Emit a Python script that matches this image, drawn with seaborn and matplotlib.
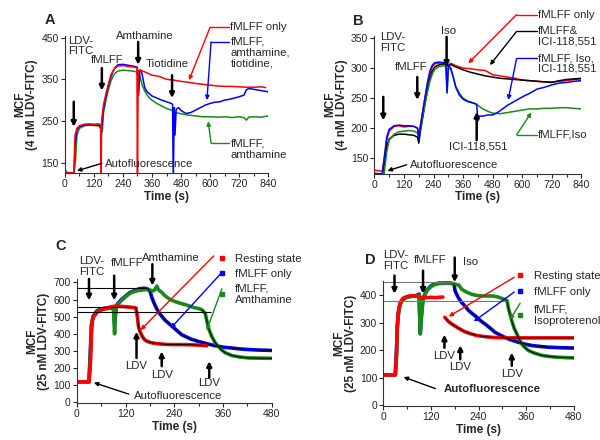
import numpy as np
import pandas as pd
import matplotlib
matplotlib.use('Agg')
import matplotlib.pyplot as plt
import seaborn as sns
from matplotlib.lines import Line2D
from matplotlib.ticker import MultipleLocator

sns.set_style('ticks')
plt.rcParams['font.family'] = ['Liberation Sans', 'DejaVu Sans']

# ---------------- Panel A data (4 nM LDV-FITC, amthamine / tiotidine) ----------------
a_red_t = [0, 10, 38, 40, 42, 50, 60, 80, 100, 120, 140, 148, 150, 152, 160, 170, 180, 190, 200, 210, 220,
           240, 260, 280, 296, 298, 300, 303, 310, 330, 360, 390, 420, 450, 480, 510, 540, 570, 600, 630,
           660, 690, 720, 750, 780, 810, 830]
a_red_v = [128, 126, 125, 180, 215, 232, 238, 242, 243, 242, 243, 240, 100, 250, 290, 315, 338, 360, 372, 378,
           382, 383, 381, 380, 378, 376, 100, 370, 372, 368, 360, 357, 350, 348, 345, 343, 340, 338, 336, 334,
           333, 333, 332, 331, 331, 332, 330]
a_blue_t = [0, 10, 38, 42, 50, 60, 80, 100, 120, 140, 148, 150, 153, 160, 170, 180, 190, 200, 210, 220, 240,
            260, 280, 296, 300, 305, 310, 315, 320, 330, 340, 350, 360, 380, 400, 420, 440, 445, 448, 452,
            455, 460, 470, 480, 500, 520, 540, 560, 580, 600, 620, 640, 660, 680, 700, 720, 740, 750, 760,
            780, 800, 820, 840]
a_blue_v = [128, 125, 124, 190, 228, 236, 240, 241, 240, 240, 238, 205, 240, 280, 310, 335, 355, 370, 380, 385,
            386, 384, 382, 380, 378, 312, 372, 372, 360, 330, 320, 315, 310, 305, 300, 296, 292, 290, 100,
            282, 216, 278, 282, 275, 268, 270, 276, 282, 288, 292, 295, 296, 300, 302, 305, 308, 312, 325,
            328, 326, 324, 322, 320]
a_green_t = [0, 5, 10, 38, 45, 50, 60, 80, 100, 120, 140, 150, 155, 160, 170, 180, 190, 200, 210, 220, 240,
             260, 280, 296, 300, 305, 310, 320, 330, 340, 350, 360, 380, 400, 420, 440, 460, 480, 510, 540,
             570, 600, 630, 660, 690, 720, 740, 750, 760, 780, 810, 840]
a_green_v = [140, 128, 124, 123, 160, 215, 232, 238, 240, 239, 238, 230, 225, 270, 300, 325, 345, 358, 366, 370,
             372, 371, 370, 368, 360, 365, 358, 335, 322, 312, 305, 300, 292, 286, 280, 276, 270, 267, 264,
             262, 260, 260, 259, 260, 258, 260, 258, 252, 259, 260, 259, 262]

# ---------------- Panel B data (Iso / ICI-118,551) ----------------
b_t = [0, 20, 32, 40, 50, 60, 80, 100, 120, 140, 160, 175, 180, 185, 195, 205, 215, 225, 235, 245, 260, 280,
       295, 300, 310, 330, 360, 390, 420, 450, 480, 510, 540, 570, 600, 630, 660, 690, 720, 750, 780, 810, 840]
b_red_v = [130, 129, 128, 150, 180, 195, 203, 204, 202, 203, 203, 200, 185, 200, 225, 250, 272, 290, 302, 307,
           308, 309, 308, 305, 308, 304, 300, 299, 297, 296, 289, 287, 285, 283, 280, 279, 278, 277, 277, 278,
           279, 281, 282]
b_black_v = [124, 123, 123, 140, 170, 182, 188, 190, 190, 189, 188, 185, 175, 190, 215, 240, 262, 282, 295,
             302, 305, 307, 306, 303, 306, 302, 297, 293, 290, 287, 285, 283, 282, 281, 280, 279, 278, 277,
             276, 279, 281, 282, 283]
b_green_t = [0, 20, 32, 40, 50, 60, 80, 100, 120, 140, 160, 175, 180, 185, 195, 205, 215, 225, 235, 245, 260,
             280, 290, 295, 300, 310, 320, 330, 345, 360, 380, 400, 420, 440, 460, 480, 510, 540, 570, 600,
             630, 660, 690, 720, 750, 780, 810, 840]
b_green_v = [122, 121, 120, 125, 160, 180, 190, 194, 195, 196, 195, 192, 185, 195, 218, 240, 260, 278, 290,
             298, 302, 304, 303, 258, 300, 298, 285, 270, 258, 250, 245, 242, 238, 232, 228, 225, 224, 226,
             228, 230, 232, 232, 233, 233, 234, 234, 233, 232]
b_blue_t = [0, 20, 32, 40, 50, 60, 80, 100, 120, 140, 160, 175, 180, 185, 195, 205, 215, 225, 235, 245, 260,
            280, 290, 295, 300, 310, 320, 330, 345, 360, 380, 400, 415, 420, 425, 440, 460, 480, 500, 520,
            540, 570, 600, 630, 660, 690, 720, 750, 780, 810, 840]
b_blue_v = [125, 124, 124, 150, 185, 198, 204, 205, 204, 204, 203, 200, 182, 198, 225, 250, 275, 295, 305,
            309, 310, 309, 308, 260, 305, 300, 285, 268, 255, 248, 244, 242, 240, 212, 220, 220, 222, 222,
            226, 232, 238, 245, 252, 258, 265, 268, 272, 275, 276, 278, 279]

# ---------------- Panel C data (25 nM LDV-FITC, amthamine) ----------------
c_red_t = [0, 10, 20, 30, 34, 36, 38, 40, 45, 50, 60, 70, 80, 90, 100, 110, 120, 130, 140, 145, 148, 152,
           156, 160, 165, 170, 180, 190, 200, 220, 240, 260, 280, 300, 320]
c_red_v = [120, 120, 120, 120, 250, 400, 470, 495, 510, 525, 540, 548, 555, 560, 562, 560, 558, 556, 553,
           550, 520, 440, 410, 390, 370, 360, 350, 345, 342, 338, 337, 337, 336, 334, 330]
c_blue_t = [0, 10, 20, 30, 34, 36, 40, 45, 50, 60, 70, 80, 90, 93, 95, 98, 100, 110, 120, 130, 140, 150, 160,
            170, 175, 180, 185, 190, 197, 205, 217, 234, 258, 280, 300, 320, 340, 360, 382, 400, 423, 450, 480]
c_blue_v = [120, 120, 120, 120, 340, 450, 500, 520, 535, 545, 550, 552, 555, 470, 520, 560, 575, 600, 620,
            640, 650, 660, 665, 665, 660, 650, 610, 580, 545, 515, 480, 445, 395, 370, 355, 342, 331, 322,
            317, 312, 308, 305, 303]
c_green_t = [0, 10, 20, 30, 34, 36, 40, 45, 50, 60, 70, 80, 90, 93, 95, 98, 100, 110, 120, 130, 140, 150,
             160, 170, 180, 188, 193, 197, 201, 210, 217, 230, 242, 255, 267, 280, 290, 300, 308, 316, 324,
             332, 340, 349, 357, 365, 375, 382, 400, 423, 450, 480]
c_green_v = [120, 120, 120, 120, 300, 450, 500, 515, 530, 540, 545, 548, 550, 400, 500, 560, 570, 595, 615,
             635, 645, 652, 655, 658, 655, 650, 660, 678, 657, 640, 622, 600, 588, 578, 570, 560, 552, 548,
             540, 520, 434, 385, 350, 325, 305, 290, 280, 273, 265, 259, 258, 257]
c_ref_levels = [665, 555, 530]
c_ref_ends = [175, 148, 330]

# ---------------- Panel D data (25 nM LDV-FITC, isoproterenol) ----------------
d_red_t = [0, 10, 20, 30, 33, 35, 37, 40, 45, 50, 60, 70, 80, 85, 100, 110, 120, 130, 140, 150,
           155, 164, 172, 181, 190, 198, 210, 223, 235, 248, 260, 274, 290, 316, 350, 400, 440, 480]
d_red_v = [110, 110, 110, 110, 180, 280, 330, 360, 380, 390, 396, 398, 398, 398, 390, 392, 393, 392, 393, 394,
           320, 305, 296, 288, 280, 273, 265, 259, 254, 251, 249, 247, 246, 245, 245, 245, 245, 245]
d_red_seg = [0] * 20 + [1] * 18
d_blue_t = [0, 10, 20, 30, 33, 35, 38, 42, 48, 55, 65, 75, 85, 90, 93, 96, 100, 105, 110, 120, 130, 140, 150,
            160, 170, 178, 181, 189, 197, 206, 215, 223, 232, 245, 257, 270, 282, 299, 316, 330, 341, 358,
            375, 400, 417, 450, 480]
d_blue_v = [110, 110, 110, 110, 200, 290, 340, 370, 385, 392, 396, 398, 400, 405, 260, 330, 390, 405, 420,
            435, 442, 445, 445, 446, 445, 442, 416, 392, 375, 361, 345, 335, 325, 308, 295, 280, 265, 252,
            241, 234, 229, 222, 217, 213, 211, 209, 208]
d_green_t = [0, 10, 20, 30, 33, 35, 38, 42, 48, 55, 65, 75, 85, 90, 93, 96, 100, 105, 110, 120, 130, 140, 150,
             160, 170, 178, 183, 190, 198, 210, 223, 235, 248, 260, 274, 287, 299, 308, 312, 316, 320, 324,
             330, 337, 343, 349, 357, 366, 380, 400, 420, 434, 460, 480]
d_green_v = [110, 110, 110, 110, 180, 280, 330, 365, 382, 390, 395, 397, 400, 400, 260, 320, 385, 402, 418,
             432, 440, 443, 444, 445, 444, 442, 440, 438, 422, 412, 404, 400, 398, 398, 398, 395, 389, 384,
             380, 350, 330, 307, 280, 259, 240, 223, 210, 199, 190, 181, 177, 175, 173, 172]
d_ref_levels = [450, 380]
d_ref_ends = [178, 312]

RED, BLUE, GREEN, BLACK = '#ff0000', '#0000ff', '#178a17', '#000000'


def long_df(series):
    parts = []
    for name, t, v, seg in series:
        if seg is None:
            seg = [0] * len(t)
        parts.append(pd.DataFrame({'time': t, 'mcf': v, 'series': name, 'seg': seg}))
    return pd.concat(parts, ignore_index=True)


fig = plt.figure(figsize=(6, 4.4), dpi=100)
axA = fig.add_axes([0.108, 0.607, 0.339, 0.312])
axB = fig.add_axes([0.624, 0.605, 0.345, 0.314])
axC = fig.add_axes([0.128, 0.084, 0.325, 0.282])
axD = fig.add_axes([0.639, 0.077, 0.317, 0.284])

FS_T = 7.5
FS_A = 8.2


def style(ax, xmax, ylim, ymaj, ylab):
    ax.set_xlim(0, xmax)
    ax.set_ylim(*ylim)
    ax.xaxis.set_major_locator(MultipleLocator(120))
    ax.xaxis.set_minor_locator(MultipleLocator(60))
    ax.yaxis.set_major_locator(MultipleLocator(ymaj))
    ax.tick_params(axis='both', which='major', labelsize=FS_T, length=3, width=0.8, pad=1.5)
    ax.tick_params(axis='both', which='minor', length=2, width=0.8)
    for s in ['top', 'right']:
        ax.spines[s].set_visible(False)
    for s in ['left', 'bottom']:
        ax.spines[s].set_linewidth(0.8)
        ax.spines[s].set_color('#333333')
    ax.set_xlabel('Time (s)', fontsize=8.5, fontweight='bold', labelpad=1)
    ax.set_ylabel(ylab, fontsize=8.5, fontweight='bold', labelpad=2, linespacing=1.0)


def arrow(ax, tail, tip, color=BLACK, lw=1.8, ms=7):
    ax.annotate('', xy=tip, xytext=tail, annotation_clip=False,
                arrowprops=dict(arrowstyle='-|>', color=color, lw=lw, mutation_scale=ms,
                                shrinkA=0, shrinkB=0))


def leader(ax, pts, color):
    xs = [p[0] for p in pts[:-1]]
    ys = [p[1] for p in pts[:-1]]
    ax.plot(xs, ys, color=color, lw=1.0, clip_on=False)
    arrow(ax, pts[-2], pts[-1], color=color, lw=1.0, ms=6)


# ---------------- Panel A ----------------
dfA = long_df([('green', a_green_t, a_green_v, None), ('blue', a_blue_t, a_blue_v, None),
               ('red', a_red_t, a_red_v, None)])
sns.lineplot(data=dfA, x='time', y='mcf', hue='series', units='seg', estimator=None, sort=False,
             palette={'red': RED, 'blue': BLUE, 'green': GREEN}, lw=1.1, legend=False, ax=axA)
style(axA, 840, (125, 455), 100, 'MCF\n(4 nM LDV-FITC)')
axA.set_yticks([150, 250, 350, 450])
axA.text(12, 455, 'LDV-\nFITC', fontsize=FS_A, va='top', ha='left', linespacing=1.1)
arrow(axA, (37, 296), (37, 236))
axA.text(108, 397, 'fMLFF', fontsize=FS_A, va='center', ha='left')
arrow(axA, (153, 377), (153, 323))
axA.text(331, 454, 'Amthamine', fontsize=FS_A, va='center', ha='center')
arrow(axA, (303, 440), (303, 385))
axA.text(422, 387, 'Tiotidine', fontsize=FS_A, va='center', ha='center')
arrow(axA, (443, 360), (443, 305))
axA.text(166, 147, 'Autofluorescence', fontsize=FS_A, va='center', ha='left')
arrow(axA, (153, 148), (50, 130), lw=1.0, ms=6)
axA.text(684, 475, 'fMLFF only', fontsize=FS_A, va='center', ha='left')
leader(axA, [(679, 475), (600, 475), (513, 348)], RED)
axA.text(684, 452, 'fMLFF,\namthamine,\ntiotidine,', fontsize=FS_A, va='top', ha='left', linespacing=1.1)
leader(axA, [(679, 440), (604, 440), (587, 300)], BLUE)
axA.text(684, 207, 'fMLFF,\namthamine', fontsize=FS_A, va='top', ha='left', linespacing=1.1)
leader(axA, [(679, 197), (604, 197), (592, 249)], GREEN)

# ---------------- Panel B ----------------
dfB = long_df([('red', b_t, b_red_v, None), ('black', b_t, b_black_v, None),
               ('green', b_green_t, b_green_v, None), ('blue', b_blue_t, b_blue_v, None)])
sns.lineplot(data=dfB, x='time', y='mcf', hue='series', units='seg', estimator=None, sort=False,
             palette={'red': RED, 'blue': BLUE, 'green': GREEN, 'black': BLACK}, lw=1.1, legend=False, ax=axB)
style(axB, 840, (124, 354), 50, 'MCF\n(4 nM LDV-FITC)')
axB.text(23, 360, 'LDV-\nFITC', fontsize=FS_A, va='top', ha='left', linespacing=1.1)
arrow(axB, (36, 252), (36, 213))
axB.text(84, 301, 'fMLFF', fontsize=FS_A, va='center', ha='left')
arrow(axB, (174, 285), (174, 247))
axB.text(300, 361, 'Iso', fontsize=FS_A, va='center', ha='center')
arrow(axB, (293, 352), (293, 302))
axB.text(422, 169, 'ICI-118,551', fontsize=FS_A, va='center', ha='center')
arrow(axB, (415, 180), (415, 227))
axB.text(145, 139, 'Autofluorescence', fontsize=FS_A, va='center', ha='left')
arrow(axB, (131, 139), (53, 129), lw=1.0, ms=6)
axB.text(663, 389, 'fMLFF only', fontsize=FS_A, va='center', ha='left')
leader(axB, [(658, 389), (577, 389), (381, 308)], RED)
axB.text(663, 370, 'fMLFF&\nICI-118,551', fontsize=FS_A, va='top', ha='left', linespacing=1.1)
leader(axB, [(658, 361), (577, 361), (469, 305)], BLACK)
axB.text(663, 325, 'fMLFF, Iso,\nICI-118,551', fontsize=FS_A, va='top', ha='left', linespacing=1.1)
leader(axB, [(658, 316), (577, 316), (543, 247)], BLUE)
axB.text(663, 189, 'fMLFF,Iso', fontsize=FS_A, va='center', ha='left')
leader(axB, [(658, 189), (577, 189), (637, 226)], GREEN)

# ---------------- Panel C ----------------
dfC = long_df([('blue', c_blue_t, c_blue_v, None), ('green', c_green_t, c_green_v, None),
               ('red', c_red_t, c_red_v, None)])
sns.lineplot(data=dfC, x='time', y='mcf', hue='series', units='seg', estimator=None, sort=False,
             palette={'red': RED, 'blue': BLUE, 'green': GREEN}, lw=2.6, legend=False, ax=axC)
fitC = dfC[((dfC.series == 'red') & (dfC.time >= 145)) | ((dfC.series == 'blue') & (dfC.time >= 175)) |
           ((dfC.series == 'green') & (dfC.time >= 308))]
sns.lineplot(data=fitC, x='time', y='mcf', units='series', estimator=None, sort=False, color=BLACK,
             lw=0.7, legend=False, ax=axC)
axC.hlines(c_ref_levels, 0, c_ref_ends, colors=BLACK, lw=0.8)
style(axC, 480, (-4, 720), 100, 'MCF\n(25 nM LDV-FITC)')
axC.text(5, 854, 'LDV-\nFITC', fontsize=FS_A, va='top', ha='left', linespacing=1.1)
arrow(axC, (30, 720), (30, 595))
axC.text(83, 811, 'fMLFF', fontsize=FS_A, va='center', ha='left')
arrow(axC, (92, 739), (92, 595))
axC.text(231, 844, 'Amthamine', fontsize=FS_A, va='center', ha='center')
arrow(axC, (186, 806), (186, 681))
for (tx, y0, y1, ty) in [(147, 259, 412, 211), (209, 211, 297, 157), (326, 144, 240, 111)]:
    arrow(axC, (tx, y0), (tx, y1))
    axC.text(tx, ty, 'LDV', fontsize=FS_A, va='center', ha='center')
axC.text(140, 38, 'Autofluorescence', fontsize=FS_A, va='center', ha='left')
arrow(axC, (128, 48), (42, 115), lw=1.0, ms=6)
arrow(axC, (337, 854), (157, 422), color=RED, lw=1.0, ms=6)
arrow(axC, (357, 758), (231, 432), color=BLUE, lw=1.0, ms=6)
arrow(axC, (357, 662), (320, 422), color=GREEN, lw=1.0, ms=6)
hC = [Line2D([], [], ls='none', marker='s', ms=2.5, color=c) for c in (RED, BLUE, GREEN)]
axC.legend(hC, ['Resting state', 'fMLFF only', 'fMLFF,\nAmthamine'], loc='upper left',
           bbox_to_anchor=(0.725, 1.2), frameon=False, fontsize=FS_A, handlelength=0.6,
           handletextpad=0.9, labelspacing=0.4, borderpad=0, borderaxespad=0)

# ---------------- Panel D ----------------
dfD = long_df([('blue', d_blue_t, d_blue_v, None), ('green', d_green_t, d_green_v, None),
               ('red', d_red_t, d_red_v, d_red_seg)])
sns.lineplot(data=dfD, x='time', y='mcf', hue='series', units='seg', estimator=None, sort=False,
             palette={'red': RED, 'blue': BLUE, 'green': GREEN}, lw=2.6, legend=False, ax=axD)
fitD = dfD[((dfD.series == 'red') & (dfD.time >= 155)) | ((dfD.series == 'blue') & (dfD.time >= 178)) |
           ((dfD.series == 'green') & (dfD.time >= 308))]
sns.lineplot(data=fitD, x='time', y='mcf', units='series', estimator=None, sort=False, color=BLACK,
             lw=0.7, legend=False, ax=axD)
axD.hlines(d_ref_levels, 0, d_ref_ends, colors='#777777', lw=0.8)
style(axD, 480, (-4, 452), 100, 'MCF\n(25 nM LDV-FITC)')
axD.set_yticks([0, 100, 200, 300, 400])
axD.text(0, 565, 'LDV-\nFITC', fontsize=FS_A, va='top', ha='left', linespacing=1.1)
arrow(axD, (28, 472), (28, 406))
axD.text(76, 529, 'fMLFF', fontsize=FS_A, va='center', ha='left')
arrow(axD, (100, 490), (100, 406))
axD.text(200, 523, 'Iso', fontsize=FS_A, va='center', ha='left')
arrow(axD, (180, 538), (180, 448))
for (tx, y0, y1, ty) in [(154, 209, 257, 179), (194, 167, 218, 138), (324, 143, 191, 114)]:
    arrow(axD, (tx, y0), (tx, y1))
    axD.text(tx, ty, 'LDV', fontsize=FS_A, va='center', ha='center')
axD.text(152, 57, 'Autofluorescence', fontsize=FS_A, va='center', ha='left', fontweight='bold')
arrow(axD, (131, 60), (51, 102), lw=1.0, ms=6)
arrow(axD, (330, 466), (165, 323), color=RED, lw=1.0, ms=6)
arrow(axD, (330, 412), (228, 305), color=BLUE, lw=1.0, ms=6)
arrow(axD, (345, 371), (319, 311), color=GREEN, lw=1.0, ms=6)
hD = [Line2D([], [], ls='none', marker='s', ms=2.5, color=c) for c in (RED, BLUE, GREEN)]
axD.legend(hD, ['Resting state', 'fMLFF only', 'fMLFF,\nIsoproterenol'], loc='upper left',
           bbox_to_anchor=(0.7, 1.085), frameon=False, fontsize=FS_A, handlelength=0.6,
           handletextpad=0.9, labelspacing=0.6, borderpad=0, borderaxespad=0)

# panel letters
for lab, x, y in [('A', 0.075, 0.955), ('B', 0.588, 0.953), ('C', 0.092, 0.441), ('D', 0.609, 0.41)]:
    fig.text(x, y, lab, fontsize=10.5, fontweight='bold', ha='left', va='center')

fig.savefig('out.png', dpi=100)
